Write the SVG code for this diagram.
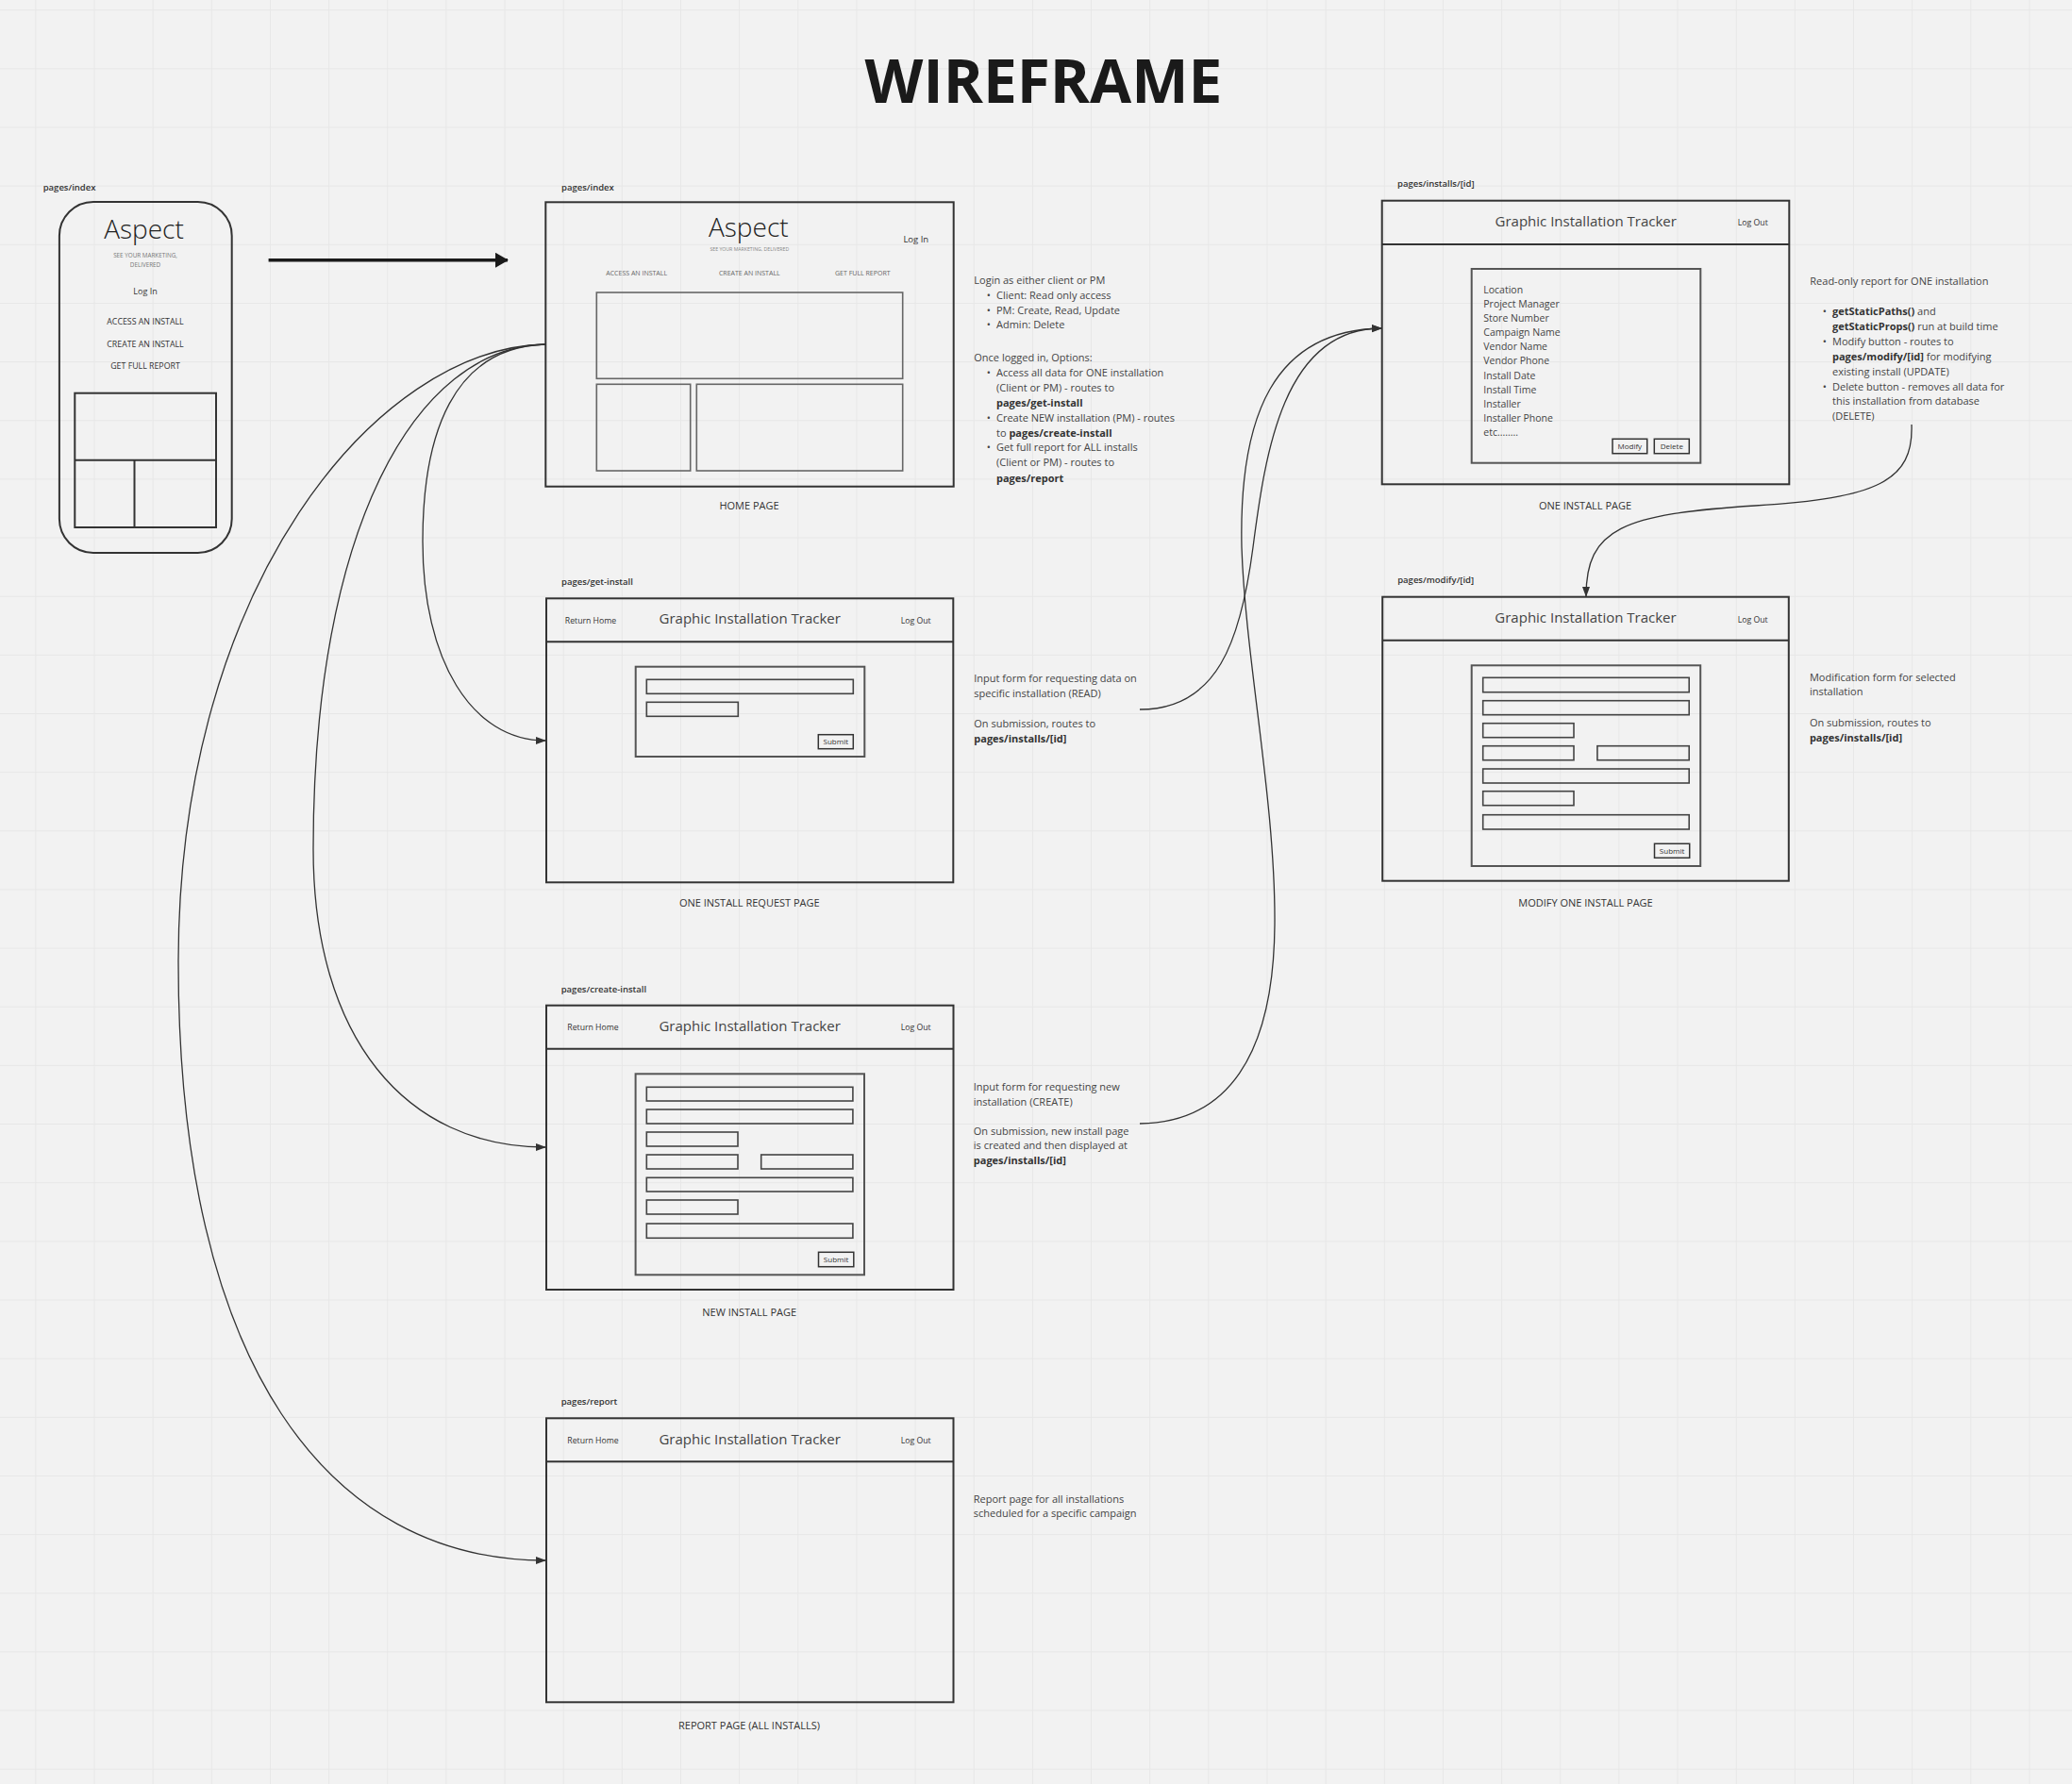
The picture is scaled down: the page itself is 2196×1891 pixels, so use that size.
<svg xmlns="http://www.w3.org/2000/svg" width="2196" height="1891" viewBox="0 0 2196 1891">
<defs>
<pattern id="grid" x="37.35" y="10.2" width="62.15" height="62.15" patternUnits="userSpaceOnUse">
<path d="M0.5,0 V62.15 M0,0.5 H62.15" fill="none" stroke="#e7e7e7" stroke-width="1"/>
</pattern>
<marker id="arr" markerWidth="11" markerHeight="10" refX="10" refY="5" orient="auto" markerUnits="userSpaceOnUse">
<path d="M0,1 L11,5 L0,9 Z" fill="#333"/>
</marker>
<marker id="arrBig" markerWidth="14" markerHeight="16" refX="13" refY="8" orient="auto" markerUnits="userSpaceOnUse">
<path d="M0,0 L14,8 L0,16 Z" fill="#1a1a1a"/>
</marker>
<style>
text{font-family:"Open Sans","Liberation Sans",sans-serif}
.frame{fill:none;stroke:#333;stroke-width:2}
.div{stroke:#333;stroke-width:2}
.form{fill:none;stroke:#555;stroke-width:2}
.inp{fill:none;stroke:#444;stroke-width:1.6}
.box{fill:none;stroke:#666;stroke-width:1.6}
.btn{fill:none;stroke:#333;stroke-width:1.5}
.lbl{font-size:9.5px;font-weight:600;fill:#333}
.cap{font-size:11px;fill:#333;text-anchor:middle}
.note{font-size:11px;fill:#444}
.b{font-weight:700;fill:#333}
.hdr{font-size:15px;fill:#444;text-anchor:middle}
.nav{font-size:8.7px;fill:#333;text-anchor:middle}
.field{font-size:10.5px;fill:#444}
.btxt{font-size:8px;fill:#333;text-anchor:middle}
.aspect{font-size:28px;font-weight:300;fill:#222;text-anchor:middle}
.menu{fill:#333;text-anchor:middle}
.conn{fill:none;stroke:#333;stroke-width:1.3}
</style>
</defs>
<rect width="2196" height="1891" fill="#f2f2f2"/>
<rect width="2196" height="1891" fill="url(#grid)"/>

<text x="1106" y="109" font-size="64" font-weight="700" fill="#1a1a1a" text-anchor="middle">WIREFRAME</text>

<g id="phone-index">
<text class="lbl" x="45.7" y="201.7">pages/index</text>
<rect x="62.9" y="214" width="182.8" height="372" rx="36" class="frame"/>
<text class="aspect" x="152.5" y="252.7">Aspect</text>
<text x="154" y="272.7" font-size="6.3" fill="#777" text-anchor="middle">SEE YOUR MARKETING,</text>
<text x="154" y="282.7" font-size="6.3" fill="#777" text-anchor="middle">DELIVERED</text>
<text x="154" y="311.7" font-size="9" class="menu">Log In</text>
<text x="154" y="344" font-size="8.8" class="menu">ACCESS AN INSTALL</text>
<text x="154" y="367.7" font-size="8.8" class="menu">CREATE AN INSTALL</text>
<text x="154" y="390.7" font-size="8.8" class="menu">GET FULL REPORT</text>
<rect x="79.3" y="416.7" width="149.7" height="142.3" class="frame"/>
<line x1="79.3" y1="487.7" x2="229" y2="487.7" class="div"/>
<line x1="142.5" y1="487.7" x2="142.5" y2="559" class="div"/>
</g>

<g id="home-page">
<text class="lbl" x="595" y="201.7">pages/index</text>
<rect x="578.3" y="214.3" width="432.4" height="301.4" class="frame"/>
<text class="aspect" x="793.3" y="251" font-size="28.5">Aspect</text>
<text x="794.3" y="265.7" font-size="5.2" fill="#888" text-anchor="middle">SEE YOUR MARKETING, DELIVERED</text>
<text x="970.8" y="256.7" font-size="9.5" class="menu">Log In</text>
<text x="674.7" y="291.7" font-size="7" fill="#666" text-anchor="middle">ACCESS AN INSTALL</text>
<text x="794.3" y="291.7" font-size="7" fill="#666" text-anchor="middle">CREATE AN INSTALL</text>
<text x="914.3" y="291.7" font-size="7" fill="#666" text-anchor="middle">GET FULL REPORT</text>
<rect x="632.3" y="310" width="324.4" height="91.3" class="box"/>
<rect x="632.3" y="407.3" width="99.4" height="91.7" class="box"/>
<rect x="738.3" y="407.3" width="218.4" height="91.7" class="box"/>
<text class="cap" x="794" y="540">HOME PAGE</text>
</g>

<g id="home-notes">
<text class="note" x="1032.3" y="301">Login as either client or PM</text>
<text class="note" x="1045.7" y="316.7">•</text><text class="note" x="1056" y="316.7">Client: Read only access</text>
<text class="note" x="1045.7" y="332.5">•</text><text class="note" x="1056" y="332.5">PM: Create, Read, Update</text>
<text class="note" x="1045.7" y="348.3">•</text><text class="note" x="1056" y="348.3">Admin: Delete</text>
<text class="note" x="1032.3" y="383.3">Once logged in, Options:</text>
<text class="note" x="1045.7" y="399">•</text><text class="note" x="1056" y="399">Access all data for ONE installation</text>
<text class="note" x="1056" y="415">(Client or PM) - routes to</text>
<text class="note b" x="1056" y="430.7">pages/get-install</text>
<text class="note" x="1045.7" y="446.7">•</text><text class="note" x="1056" y="446.7">Create NEW installation (PM) - routes</text>
<text class="note" x="1056" y="462.7">to <tspan class="b">pages/create-install</tspan></text>
<text class="note" x="1045.7" y="478.3">•</text><text class="note" x="1056" y="478.3">Get full report for ALL installs</text>
<text class="note" x="1056" y="494.3">(Client or PM) - routes to</text>
<text class="note b" x="1056" y="510.7">pages/report</text>
</g>

<g id="one-install-page">
<text class="lbl" x="1481" y="198.3">pages/installs/[id]</text>
<rect x="1464.7" y="212.7" width="431.6" height="300.6" class="frame"/>
<line x1="1464.7" y1="259" x2="1896.3" y2="259" class="div"/>
<text class="hdr" x="1680.7" y="240">Graphic Installation Tracker</text>
<text class="nav" x="1857.8" y="239.3">Log Out</text>
<rect x="1559.7" y="285" width="242.6" height="205.7" class="form"/>
<text class="field" x="1572.3" y="310.7">Location</text>
<text class="field" x="1572.3" y="325.7">Project Manager</text>
<text class="field" x="1572.3" y="340.7">Store Number</text>
<text class="field" x="1572.3" y="355.7">Campaign Name</text>
<text class="field" x="1572.3" y="370.7">Vendor Name</text>
<text class="field" x="1572.3" y="385.7">Vendor Phone</text>
<text class="field" x="1572.3" y="401.7">Install Date</text>
<text class="field" x="1572.3" y="416.7">Install Time</text>
<text class="field" x="1572.3" y="431.7">Installer</text>
<text class="field" x="1572.3" y="446.7">Installer Phone</text>
<text class="field" x="1572.3" y="461.7">etc........</text>
<rect x="1709" y="465.3" width="36.7" height="15.4" class="btn"/>
<text class="btxt" x="1727.3" y="476">Modify</text>
<rect x="1753.3" y="465.3" width="37" height="15.4" class="btn"/>
<text class="btxt" x="1771.8" y="476">Delete</text>
<text class="cap" x="1680" y="539.5">ONE INSTALL PAGE</text>
</g>

<g id="one-install-notes">
<text class="note" x="1918.3" y="301.7">Read-only report for ONE installation</text>
<text class="note" x="1931.7" y="334">•</text><text class="note" x="1942" y="334"><tspan class="b">getStaticPaths()</tspan> and</text>
<text class="note" x="1942" y="350"><tspan class="b">getStaticProps()</tspan> run at build time</text>
<text class="note" x="1931.7" y="365.7">•</text><text class="note" x="1942" y="365.7">Modify button - routes to</text>
<text class="note" x="1942" y="381.7"><tspan class="b">pages/modify/[id]</tspan> for modifying</text>
<text class="note" x="1942" y="397.7">existing install (UPDATE)</text>
<text class="note" x="1931.7" y="413.7">•</text><text class="note" x="1942" y="413.7">Delete button - removes all data for</text>
<text class="note" x="1942" y="429.3">this installation from database</text>
<text class="note" x="1942" y="445.3">(DELETE)</text>
</g>

<g id="get-install-page">
<text class="lbl" x="595" y="620">pages/get-install</text>
<rect x="579" y="634.3" width="431.3" height="301" class="frame"/>
<line x1="579" y1="680.3" x2="1010.3" y2="680.3" class="div"/>
<text class="nav" x="626" y="660.7">Return Home</text>
<text class="hdr" x="794.7" y="660.7">Graphic Installation Tracker</text>
<text class="nav" x="970.7" y="660.7">Log Out</text>
<rect x="673.7" y="706.7" width="242.6" height="95.3" class="form"/>
<rect x="685.3" y="720.3" width="219" height="15" class="inp"/>
<rect x="685.3" y="744.3" width="97" height="15" class="inp"/>
<rect x="867.3" y="778.7" width="37" height="15" class="btn"/>
<text class="btxt" x="885.8" y="789.3">Submit</text>
<text class="cap" x="794.3" y="961">ONE INSTALL REQUEST PAGE</text>
</g>

<g id="get-install-notes">
<text class="note" x="1032.3" y="723.3">Input form for requesting data on</text>
<text class="note" x="1032.3" y="739">specific installation (READ)</text>
<text class="note" x="1032.3" y="771">On submission, routes to</text>
<text class="note b" x="1032.3" y="786.7">pages/installs/[id]</text>
</g>

<g id="modify-page">
<text class="lbl" x="1481.2" y="618.3">pages/modify/[id]</text>
<rect x="1465.2" y="632.7" width="430.6" height="301" class="frame"/>
<line x1="1465.2" y1="678.7" x2="1895.8" y2="678.7" class="div"/>
<text class="hdr" x="1680.5" y="660">Graphic Installation Tracker</text>
<text class="nav" x="1857.7" y="660">Log Out</text>
<rect x="1559.7" y="705.3" width="242.5" height="212.7" class="form"/>
<rect x="1571.7" y="718.3" width="218.5" height="15.4" class="inp"/>
<rect x="1571.7" y="742.7" width="218.5" height="15" class="inp"/>
<rect x="1571.7" y="766.7" width="96.3" height="15" class="inp"/>
<rect x="1571.7" y="790.7" width="96.3" height="15" class="inp"/>
<rect x="1692.9" y="790.7" width="97.3" height="15" class="inp"/>
<rect x="1571.7" y="815" width="218.5" height="15" class="inp"/>
<rect x="1571.7" y="838.7" width="96.3" height="15" class="inp"/>
<rect x="1571.7" y="863.7" width="218.5" height="15.3" class="inp"/>
<rect x="1753.5" y="894.3" width="37.2" height="15" class="btn"/>
<text class="btxt" x="1772.1" y="905">Submit</text>
<text class="cap" x="1680.5" y="961">MODIFY ONE INSTALL PAGE</text>
</g>

<g id="modify-notes">
<text class="note" x="1917.9" y="721.7">Modification form for selected</text>
<text class="note" x="1917.9" y="737.3">installation</text>
<text class="note" x="1917.9" y="770">On submission, routes to</text>
<text class="note b" x="1917.9" y="785.7">pages/installs/[id]</text>
</g>

<g id="create-install-page">
<text class="lbl" x="594.7" y="1051.7">pages/create-install</text>
<rect x="579" y="1065.7" width="431.5" height="301.3" class="frame"/>
<line x1="579" y1="1111.7" x2="1010.5" y2="1111.7" class="div"/>
<text class="nav" x="628.5" y="1092">Return Home</text>
<text class="hdr" x="794.6" y="1093">Graphic Installation Tracker</text>
<text class="nav" x="970.7" y="1092">Log Out</text>
<rect x="673.6" y="1138.3" width="242.4" height="213" class="form"/>
<rect x="685.3" y="1152.3" width="218.6" height="14.7" class="inp"/>
<rect x="685.3" y="1176" width="218.6" height="15" class="inp"/>
<rect x="685.3" y="1200" width="96.7" height="15" class="inp"/>
<rect x="685.3" y="1224" width="96.7" height="15" class="inp"/>
<rect x="806.7" y="1224" width="97.2" height="15" class="inp"/>
<rect x="685.3" y="1248.3" width="218.6" height="14.7" class="inp"/>
<rect x="685.3" y="1272" width="96.7" height="15" class="inp"/>
<rect x="685.3" y="1297" width="218.6" height="15.3" class="inp"/>
<rect x="867.5" y="1327.3" width="37.3" height="15.4" class="btn"/>
<text class="btxt" x="886.1" y="1338">Submit</text>
<text class="cap" x="794.2" y="1395">NEW INSTALL PAGE</text>
</g>

<g id="create-install-notes">
<text class="note" x="1031.8" y="1156">Input form for requesting new</text>
<text class="note" x="1031.8" y="1171.5">installation (CREATE)</text>
<text class="note" x="1031.8" y="1202.7">On submission, new install page</text>
<text class="note" x="1031.8" y="1218.3">is created and then displayed at</text>
<text class="note b" x="1031.8" y="1234.3">pages/installs/[id]</text>
</g>

<g id="report-page">
<text class="lbl" x="594.7" y="1489.3">pages/report</text>
<rect x="579" y="1503.3" width="431.5" height="301" class="frame"/>
<line x1="579" y1="1549.3" x2="1010.5" y2="1549.3" class="div"/>
<text class="nav" x="628.5" y="1530">Return Home</text>
<text class="hdr" x="794.6" y="1530.5">Graphic Installation Tracker</text>
<text class="nav" x="970.7" y="1530">Log Out</text>
<text class="cap" x="794" y="1832.7">REPORT PAGE (ALL INSTALLS)</text>
</g>

<g id="report-notes">
<text class="note" x="1031.8" y="1592.7">Report page for all installations</text>
<text class="note" x="1031.8" y="1608.3">scheduled for a specific campaign</text>
</g>

<g id="connectors">
<line x1="284.6" y1="275.7" x2="537.9" y2="275.7" stroke="#1a1a1a" stroke-width="3.5" marker-end="url(#arrBig)"/>
<path class="conn" d="M578,365 C480,368 448,460 448,574 C448,700 500,785 578,785" marker-end="url(#arr)"/>
<path class="conn" d="M578,365 C440,368 332,560 332,900 C332,1100 430,1216 578,1216" marker-end="url(#arr)"/>
<path class="conn" d="M578,365 C400,368 189,620 189,1020 C189,1450 350,1654 578,1654" marker-end="url(#arr)"/>
<path class="conn" d="M1208,752 C1290,752 1315,680 1328,580 C1341,480 1360,348 1464,348" marker-end="url(#arr)"/>
<path class="conn" d="M1208,1191 C1300,1190 1350,1120 1351,980 C1352,850 1320,700 1316,580 C1313,440 1350,350 1464,348" marker-end="url(#arr)"/>
<path class="conn" d="M2026,450 C2028,510 1990,528 1860,536 C1720,545 1681,560 1681,632" marker-end="url(#arr)"/>
</g>
</svg>
